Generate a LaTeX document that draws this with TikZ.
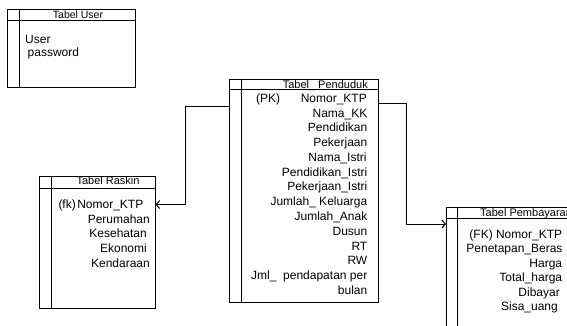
\documentclass[tikz,border=0pt]{standalone}
\usepackage{fontspec}
\setmainfont{Liberation Sans}
\usetikzlibrary{arrows.meta}
\begin{document}
\begin{tikzpicture}[x=1pt,y=-1pt,
  frame/.style={draw=black,line width=0.8pt},
  sep/.style={draw=black,line width=0.7pt},
  fld/.style={anchor=base east,inner sep=0pt,font=\fontsize{12}{14}\selectfont},
  fldw/.style={anchor=base west,inner sep=0pt,font=\fontsize{12}{14}\selectfont},
  ttl/.style={anchor=base,inner sep=0pt,font=\fontsize{11}{13}\selectfont},
  conn/.style={draw=black,line width=1pt},
  tip/.style={-{Straight Barb[length=3.5pt,width=8pt,line width=1pt]}}]
\useasboundingbox (0,0) rectangle (567,325);
\clip (0,0) rectangle (567,325);

% Tabel User
\draw[frame] (7,9) rectangle (135,87);
\draw[sep] (19,9) -- (19,87);
\draw[sep] (7,20) -- (135,20);
\node[ttl,font=\fontsize{10.5}{12}\selectfont] (tu) at (78,18.5) {Tabel User};
\node[fldw] (u1) at (25,43.3) {User};
\node[fldw] (u2) at (27.5,56.7) {password};

% Tabel Penduduk
\draw[frame] (229,79) rectangle (378,302);
\draw[sep] (241,79) -- (241,302);
\draw[sep] (229,89) -- (378,89);
\node[ttl,anchor=base east] (tp) at (368,88) {Tabel\_ Penduduk};
\node[fldw] (pk) at (256,102.3) {(PK)};
\node[fld] (p0) at (367,102.3) {Nomor\_KTP};
\node[fld] (p1) at (367.5,117.1) {Nama\_KK};
\node[fld] (p2) at (367.5,131.8) {Pendidikan};
\node[fld] (p3) at (367.5,146.6) {Pekerjaan};
\node[fld] (p4) at (366.7,161.4) {Nama\_Istri};
\node[fld] (p5) at (367.5,176.2) {Pendidikan\_Istri};
\node[fld] (p6) at (367.5,190.9) {Pekerjaan\_Istri};
\node[fld] (p7) at (367.5,205.7) {Jumlah\_ Keluarga};
\node[fld] (p8) at (367.5,220.5) {Jumlah\_Anak};
\node[fld] (p9) at (367.5,235.2) {Dusun};
\node[fld] (p10) at (367.5,250) {RT};
\node[fld] (p11) at (367.5,264.8) {RW};
\node[fld] (p12) at (367.5,279.5) {Jml\_\ \ pendapatan per};
\node[fld] (p13) at (367.5,294.3) {bulan};

% Tabel Raskin
\draw[frame] (39,176) rectangle (155,308);
\draw[sep] (51,176) -- (51,308);
\draw[sep] (39,188) -- (155,188);
\node[ttl] (tr) at (108,184.5) {Tabel Raskin};
\node[fldw] (fk) at (58.3,208.3) {(fk)};
\node[fld] (r0) at (143.5,208.3) {Nomor\_KTP};
\node[fld] (r1) at (150,223) {Perumahan};
\node[fld] (r2) at (147,237.7) {Kesehatan};
\node[fld] (r3) at (147,252.4) {Ekonomi};
\node[fld] (r4) at (150,267) {Kendaraan};

% Tabel Pembayaran
\draw[frame] (446,207) rectangle (600,340);
\draw[sep] (457,207) -- (457,340);
\draw[sep] (446,218) -- (600,218);
\node[ttl,anchor=base west] (tb) at (480,216.5) {Tabel Pembayaran};
\node[fld] (b0) at (562.3,238.5) {(FK) Nomor\_KTP};
\node[fld] (b1) at (562.7,252.9) {Penetapan\_Beras};
\node[fld] (b2) at (562.3,267.3) {Harga};
\node[fld] (b3) at (562.3,281.7) {Total\_harga};
\node[fld] (b4) at (560,296.1) {Dibayar};
\node[fld] (b5) at (558,310.5) {Sisa\_uang};

% connectors
\coordinate (pendL) at (229,106);
\coordinate (raskR) at (155.5,204.5);
\coordinate (pendR) at (378,103);
\coordinate (bayrL) at (446,224);
\draw[conn,tip] (pendL) -- (185,106) |- (raskR);
\draw[conn,tip] (pendR) -- (406,103) |- (bayrL);
\end{tikzpicture}
\end{document}
